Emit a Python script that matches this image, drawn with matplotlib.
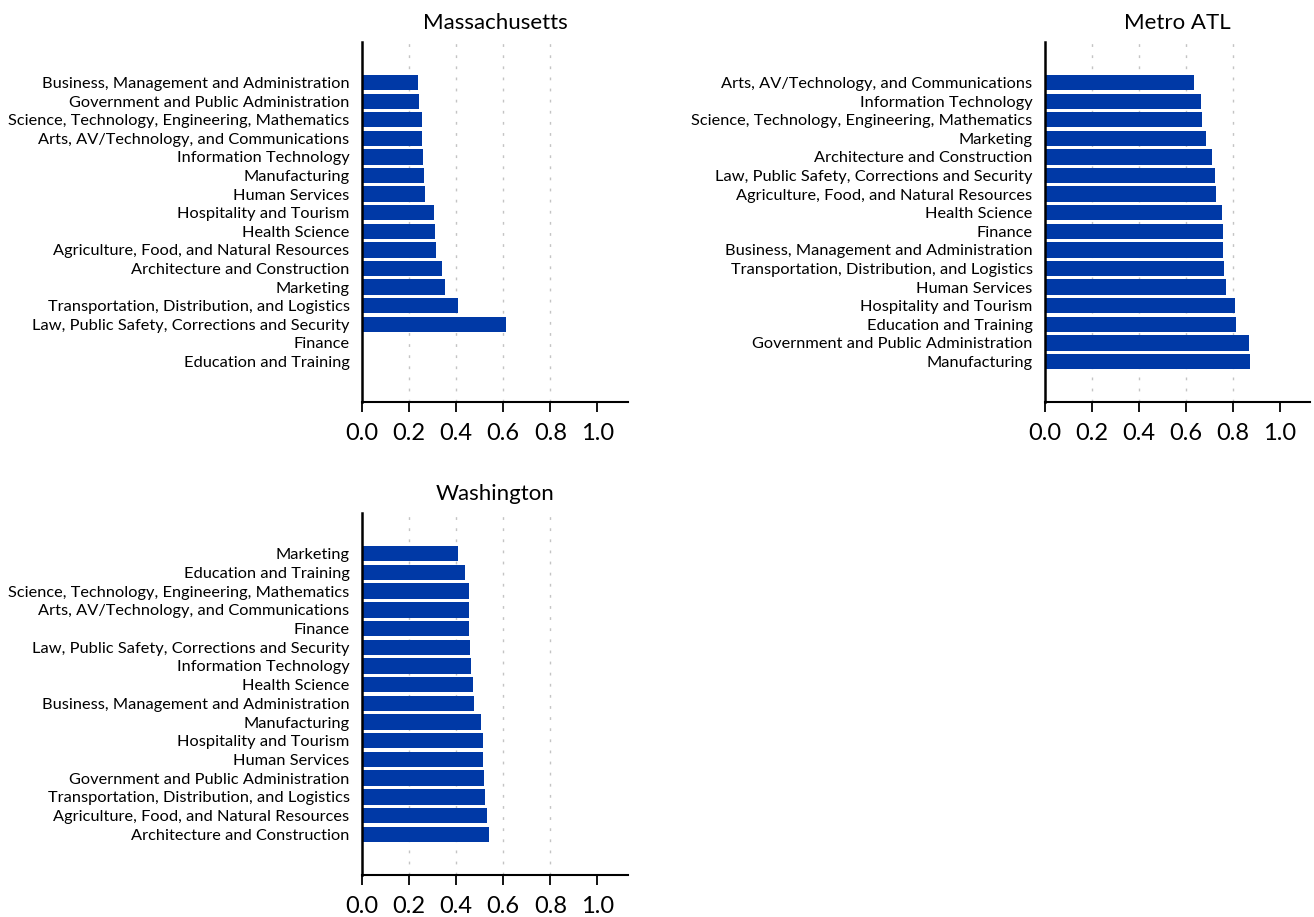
import numpy as np
import matplotlib
matplotlib.use("Agg")
import matplotlib.pyplot as plt

plt.rcParams['font.family'] = ['Lato', 'DejaVu Sans']

# share of each career cluster, sorted per region
ma_labels = [
    "Business, Management and Administration",
    "Government and Public Administration",
    "Science, Technology, Engineering, Mathematics",
    "Arts, AV/Technology, and Communications",
    "Information Technology",
    "Manufacturing",
    "Human Services",
    "Hospitality and Tourism",
    "Health Science",
    "Agriculture, Food, and Natural Resources",
    "Architecture and Construction",
    "Marketing",
    "Transportation, Distribution, and Logistics",
    "Law, Public Safety, Corrections and Security",
    "Finance",
    "Education and Training",
]
ma_values = [0.237, 0.243, 0.255, 0.255, 0.260, 0.264, 0.268, 0.306,
             0.310, 0.315, 0.339, 0.353, 0.408, 0.611, 0.0, 0.0]

atl_labels = [
    "Arts, AV/Technology, and Communications",
    "Information Technology",
    "Science, Technology, Engineering, Mathematics",
    "Marketing",
    "Architecture and Construction",
    "Law, Public Safety, Corrections and Security",
    "Agriculture, Food, and Natural Resources",
    "Health Science",
    "Finance",
    "Business, Management and Administration",
    "Transportation, Distribution, and Logistics",
    "Human Services",
    "Hospitality and Tourism",
    "Education and Training",
    "Government and Public Administration",
    "Manufacturing",
]
atl_values = [0.635, 0.666, 0.670, 0.686, 0.713, 0.724, 0.730, 0.754,
              0.757, 0.760, 0.763, 0.771, 0.810, 0.813, 0.868, 0.874]

wa_labels = [
    "Marketing",
    "Education and Training",
    "Science, Technology, Engineering, Mathematics",
    "Arts, AV/Technology, and Communications",
    "Finance",
    "Law, Public Safety, Corrections and Security",
    "Information Technology",
    "Health Science",
    "Business, Management and Administration",
    "Manufacturing",
    "Hospitality and Tourism",
    "Human Services",
    "Government and Public Administration",
    "Transportation, Distribution, and Logistics",
    "Agriculture, Food, and Natural Resources",
    "Architecture and Construction",
]
wa_values = [0.408, 0.436, 0.453, 0.453, 0.453, 0.457, 0.462, 0.470,
             0.474, 0.504, 0.513, 0.513, 0.517, 0.521, 0.530, 0.538]

xticks = [0.0, 0.2, 0.4, 0.6, 0.8, 1.0]
bar_color = "#0039A6"

fig = plt.figure(figsize=(13.14, 9.17), dpi=100)

panels = [
    ("Massachusetts", ma_labels, ma_values, [0.2755, 0.5616, 0.2024, 0.3926]),
    ("Metro ATL", atl_labels, atl_values, [0.7953, 0.5616, 0.2017, 0.3926]),
    ("Washington", wa_labels, wa_values, [0.2755, 0.0458, 0.2024, 0.3948]),
]

for title, labels, values, rect in panels:
    ax = fig.add_axes(rect)
    y = np.arange(len(labels))
    ax.barh(y, values, height=0.82, color=bar_color, zorder=2)
    ax.set_yticks(y)
    ax.set_yticklabels(labels, fontsize=11.75)
    ax.set_ylim(len(labels) - 1 + 2.18, -2.18)
    ax.set_xlim(0, 1.13)
    ax.set_xticks(xticks)
    ax.set_xticklabels([f"{t:.1f}" for t in xticks], fontsize=17)
    # dotted guides at the inner ticks only
    for t in xticks[1:-1]:
        ax.axvline(t, color="#c4c4c4", lw=1.0, linestyle=(0, (2, 6)), zorder=1)
    ax.tick_params(axis="y", length=0, pad=9)
    ax.tick_params(axis="x", length=7, width=1.3, pad=8, direction="out")
    ax.spines["top"].set_visible(False)
    ax.spines["right"].set_visible(False)
    ax.spines["left"].set_linewidth(1.8)
    ax.spines["bottom"].set_linewidth(1.5)
    ax.set_title(title, fontsize=16, pad=9)

fig.savefig("out.png", dpi=100)
